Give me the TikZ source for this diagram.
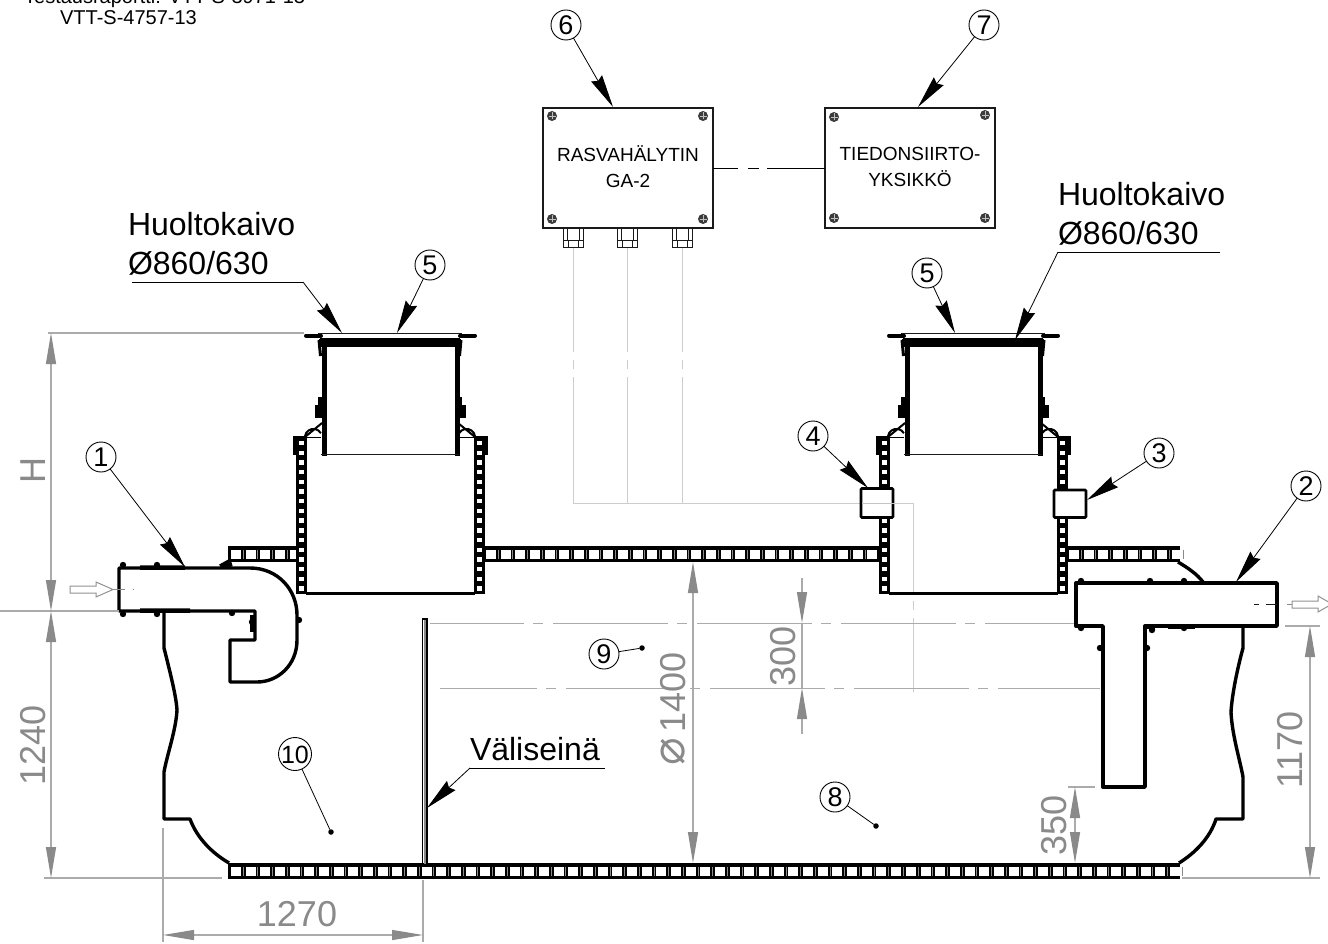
\documentclass[tikz,border=0pt]{standalone}
\usepackage{fontspec}
\setmainfont{Liberation Sans}
\newfontfamily\symfont{DejaVu Sans}
\usetikzlibrary{arrows.meta,calc}
\definecolor{dimtxt}{HTML}{8A8A8A}
\definecolor{dimline}{HTML}{ABABAB}
\definecolor{wire}{HTML}{CDCDCD}
\definecolor{ink}{HTML}{1A1A1A}
\newcommand{\fsz}[1]{\fontsize{#1}{#1}\selectfont}
\newcommand{\hladder}[4]{% x1,x2,y1,count
  \fill[black] (#1,#3) rectangle (#2,#3+16);
  \foreach \i in {1,...,#4} {
    \fill[white] ({#1+3+(\i-1)*14.67},#3+3.5) rectangle +(10,9);
    \draw[dimtxt,line width=.5] ({#1+15+(\i-1)*14.67},#3+3.5) -- +(0,9);
  }
}
\newcommand{\vladder}[3]{% xc,y1,y2
  \fill[black] (#1-5.5,#2) rectangle (#1+5.5,#3);
  \foreach \i in {0,...,15} \fill[white] (#1-2.3,{443+\i*9.7-2.2}) rectangle +(4.6,4.4);
}
\newcommand{\screw}[2]{%
  \fill[ink!85] (#1,#2) circle (5);
  \draw[white!75!black,line width=.4] (#1-3.5,#2) -- (#1+3.5,#2) (#1,#2-3.5) -- (#1,#2+3.5);
}
\newcommand{\gland}[1]{%
  \draw[ink,line width=.8,fill=white] (#1-10,228) rectangle (#1+10,240);
  \draw[ink,line width=.8] (#1-6,228) -- (#1-6,240) (#1+6,228) -- (#1+6,240);
  \draw[ink,line width=.8,fill=white] (#1-10,240) rectangle (#1+10,247);
  \draw[ink,line width=.8] (#1-5,240) -- (#1-5,247) (#1+5,240) -- (#1+5,247);
}
\newcommand{\bump}[2]{\fill[black] (#1,#2) circle (3.2);}
\newcommand{\shaft}[1]{%
\begin{scope}[shift={(#1,0)}]
  \vladder{301.5}{437}{594}
  \vladder{479.3}{437}{594}
  \fill[black] (293,437) rectangle (297,455);
  \fill[black] (484,437) rectangle (488,455);
  \fill[black] (293,435.5) rectangle (307,441);
  \fill[black] (474,435.5) rectangle (488,441);
  \draw[line width=3] (306,593) -- (475,593);
  % riser
  \fill[black] (321.5,346) rectangle (326.5,456);
  \fill[black] (454.5,346) rectangle (459.5,456);
  \draw[line width=1.4,ink] (321,454.5) -- (459,454.5);
  \fill[black] (319,339) rectangle (461,347);
  % lid
  \draw[line width=1,ink] (318,333.5) -- (462,333.5);
  \draw[line width=4,line cap=round] (306,335.5) -- (321,335.5) (460,335.5) -- (475,335.5);
  \draw[line width=.8] (320,338) -- (460,338);
  \draw[line width=3] (319,340) -- (320.5,356) (461,340) -- (459.5,356);
  % clamps
  \fill[black] (318,397) rectangle (322,418);
  \fill[black] (314.5,405) rectangle (322,418);
  \fill[black] (458,397) rectangle (462,418);
  \fill[black] (458,405) rectangle (465.5,418);
  % gussets
  \draw[line width=2] (305,436) arc[start angle=190,end angle=330,radius=8.6] (305,437) -- (322,423);
  \draw[line width=2] (475,436) arc[start angle=-10,end angle=-150,radius=8.6] (475,437) -- (458,423);
  \draw[line width=1.6] (306,437.5) -- (321,437.5) (459,437.5) -- (474,437.5);
\end{scope}}
\tikzset{
  every node/.style={inner sep=0,outer sep=0},
  wall/.style={line width=3.4,line join=round,black},
  num/.style={circle,draw=black,line width=.9,minimum size=30,fill=white,font=\fsz{27}},
  callout/.style={line width=.8,black,-{Stealth[length=33pt,width=12.5pt,inset=3pt]}},
  leader/.style={line width=.8,black},
  ddot/.style={circle,fill=black,minimum size=5.5},
  dimen/.style={dimline,line width=1.1},
  dimarr/.style={dimline,line width=1.2,{Triangle[length=31pt,width=10pt,color=dimtxt]}-{Triangle[length=31pt,width=10pt,color=dimtxt]}},
  dimone/.style={dimline,line width=1.2,-{Triangle[length=31pt,width=10pt,color=dimtxt]}},
  dimtext/.style={text=dimtxt,font=\fsz{36}},
  label/.style={font=\fsz{32},text=black},
  wirepath/.style={wire,line width=1},
  boxn/.style={draw=ink,line width=1.1,minimum width=170,minimum height=120,align=center,font=\fsz{19},fill=white},
  flow/.style={draw=dimline!85!black,line width=1,fill=white},
}
\begin{document}
\begin{tikzpicture}[x=1pt,y=-1pt]
\useasboundingbox (0,0) rectangle (1328,944);
\clip (0,0) rectangle (1328,944);
\fill[white] (0,0) rectangle (1328,944);

% report reference
\node[anchor=base east,font=\fsz{20}] (rep1) at (305,4) {Testausraportti: VTT-S-3971-13};
\node[anchor=base,font=\fsz{20}] (rep2) at (128.5,25) {VTT-S-4757-13};

% boxes
\node[boxn] (b6) at (628,168) {\raisebox{2pt}{RASVAHÄLYTIN}\\[7pt]\raisebox{2pt}{GA-2}};
\node[boxn] (b7) at (910,168) {\raisebox{2pt}{TIEDONSIIRTO-}\\[7pt]\raisebox{2pt}{YKSIKKÖ}};
\screw{552}{116}\screw{703}{116}\screw{552}{219}\screw{703}{219}
\screw{834}{117}\screw{985}{115}\screw{834}{218}\screw{985}{218}
\draw[line width=.9,black,dash pattern=on 25pt off 10pt on 11pt off 8pt on 70pt] (b6) -- (b7);
\gland{573}\gland{627.5}\gland{682}

% wires
\coordinate (g1) at (573,248); \coordinate (g2) at (627.5,248); \coordinate (g3) at (682,248);
\coordinate (w1) at (573,503); \coordinate (w2) at (627.5,503); \coordinate (w3) at (682,503);
\coordinate (w4) at (913,503); \coordinate (w5) at (913,692); \coordinate (w6) at (860,503); \coordinate (w7) at (895,503);
\draw[wirepath,dash pattern=on 104pt off 8pt on 9pt off 8pt on 200pt] (g1) -- (w1);
\draw[wirepath,dash pattern=on 104pt off 8pt on 9pt off 8pt on 200pt] (g2) -- (w2);
\draw[wirepath,dash pattern=on 104pt off 8pt on 9pt off 8pt on 200pt] (g3) -- (w3);
\draw[wirepath] (w1) -- (w6);
\draw[wirepath] (w7) -- (w4);
\draw[wirepath,dash pattern=on 90pt off 8pt on 9pt off 8pt] (w4) -- (w5);

% dash-dot levels
\coordinate (lv1a) at (430,623); \coordinate (lv1b) at (1090,623);
\coordinate (lv2a) at (440,688); \coordinate (lv2b) at (1100,688);
\draw[dimline,line width=1,dash pattern=on 115pt off 9pt on 10pt off 10pt,dash phase=21pt] (lv1a) -- (lv1b);
\draw[dimline,line width=1,dash pattern=on 115pt off 9pt on 10pt off 10pt,dash phase=18pt] (lv2a) -- (lv2b);

% ladder walls
\hladder{228}{1180}{863}{65}
\hladder{228}{300}{546}{5}
\hladder{483}{880}{546}{27}
\hladder{1066}{1180}{546}{8}
\shaft{0}
\shaft{583}

% connectors 4, 3
\draw[line width=2.6,fill=white,rounded corners=1] (861,488.5) rectangle (893,517.5);
\draw[line width=2.6,fill=white,rounded corners=1] (1054,490) rectangle (1086,517.5);
\draw[dimline!70,line width=1] (862,503) -- (895,503);

% tank outline
\draw[wall] (164,612) -- (164,648) .. controls (170,672) and (176,695) .. (177,710) .. controls (176,730) and (167,755) .. (164,772) -- (164,819) -- (190,819) .. controls (197,838) and (212,853) .. (229,863);
\draw[wall] (1243,626) -- (1243,648) .. controls (1237,670) and (1232,695) .. (1231,712) .. controls (1232,735) and (1240,760) .. (1243,777) -- (1243,819) -- (1216,819) .. controls (1210,838) and (1195,853) .. (1179,863);
\draw[wall] (1178,562) .. controls (1188,568) and (1197,574) .. (1203,582);
\draw[wall] (220,566) -- (229,561);

% partition
\draw[black,line width=1.3] (422.5,619) -- (422.5,864) (427,619) -- (427,864);
\draw[dimtxt,line width=1.5] (424.8,620) -- (424.8,864);
\draw[black,line width=1.2] (422,619) -- (427.5,619);

% inlet pipe
\draw[wall,fill=white] (119,568) -- (250,568) .. controls (278,568) and (297,590) .. (297,615) -- (297,640) .. controls (297,665) and (278,682) .. (257,682) -- (230,682) -- (230,640) -- (255,640) -- (255,611) -- (119,611) -- cycle;
\draw[line width=4.5] (140,567.5) -- (185,567.5) (140,610.5) -- (190,610.5) (222,567) -- (232,564);
\bump{123}{565}\bump{157}{565}\bump{123}{614}\bump{157}{614}\bump{232}{613}\bump{299}{620}\bump{252}{622}
\fill[black] (250,615) rectangle (255,632);
\draw[dimtxt,line width=.8] (113,589.5) -- (125,589.5) (133,589.5) -- (134,589.5);

% outlet tee
\draw[wall,fill=white] (1076,583) -- (1277,583) -- (1277,626) -- (1145,626) -- (1145,787) -- (1103,787) -- (1103,626) -- (1076,626) -- cycle;
\draw[line width=4.5] (1168,583) -- (1195,583) (1168,627) -- (1195,627) (1145,627) -- (1155,627);
\bump{1081}{581}\bump{1150}{581}\bump{1184}{581}\bump{1081}{628}\bump{1184}{628}\bump{1152}{630}\bump{1100}{648}\bump{1147}{648}
\draw[ink,line width=.9] (1254,604) -- (1259,604) (1266,604) -- (1277,604);

% flow arrows
\draw[flow] (70,586) -- (96,586) -- (96,582) -- (113,589.5) -- (96,597) -- (96,593) -- (70,593) -- cycle;
\draw[flow] (1292,601) -- (1318,601) -- (1318,596) -- (1332,604) -- (1318,612) -- (1318,608) -- (1292,608) -- cycle;
\draw[dimtxt,line width=.8] (1287,604) -- (1292,604);

% dimensions: H + 1240
\coordinate (e1) at (48,333); \coordinate (e1b) at (304,333);
\coordinate (e2) at (0,611); \coordinate (e2b) at (119,611);
\coordinate (e3) at (44,878); \coordinate (e3b) at (222,878);
\draw[dimen] (e1) -- (e1b); \draw[dimen] (e2) -- (e2b); \draw[dimen] (e3) -- (e3b);
\coordinate (dH1) at (51,333); \coordinate (dH2) at (51,611); \coordinate (dH3) at (51,878);
\draw[dimarr] (dH1) -- (dH2);
\draw[dimarr] (dH2) -- (dH3);
\node[dimtext,rotate=90] (tH) at (33,470) {H};
\node[dimtext,rotate=90] (t1240) at (33,745) {1240};

% 1270
\coordinate (a1) at (163,828); \coordinate (a1b) at (163,942);
\coordinate (a2) at (423,880); \coordinate (a2b) at (423,942);
\draw[dimen] (a1) -- (a1b); \draw[dimen] (a2) -- (a2b);
\coordinate (d1a) at (163,935); \coordinate (d1b) at (423,935);
\draw[dimarr] (d1a) -- (d1b);
\node[dimtext] (t1270) at (297,914) {1270};

% 1400
\coordinate (d2a) at (693,562); \coordinate (d2b) at (693,863);
\draw[dimarr] (d2a) -- (d2b);
\node[dimtext,rotate=90] (t1400) at (673,692) {1400};
\node[text=dimtxt,rotate=90,font=\symfont\fsz{46}] (tdia) at (673,752) {⌀};

% 300
\coordinate (d3s) at (802,578); \coordinate (d3a) at (802,623);
\coordinate (d3b) at (802,688); \coordinate (d3e) at (802,734);
\draw[dimone] (d3s) -- (d3a);
\draw[dimone] (d3e) -- (d3b);
\draw[dimen] (d3a) -- (d3b);
\node[dimtext,rotate=90] (t300) at (783,656) {300};

% 350
\coordinate (e4) at (1068,787); \coordinate (e4b) at (1095,787);
\draw[dimen] (e4) -- (e4b);
\coordinate (d4a) at (1075,787); \coordinate (d4b) at (1075,863);
\draw[dimarr] (d4a) -- (d4b);
\node[dimtext,rotate=90] (t350) at (1054,825) {350};

% 1170
\coordinate (e5) at (1285,626); \coordinate (e5b) at (1320,626);
\coordinate (e6) at (1182,878); \coordinate (e6b) at (1320,878);
\draw[dimen] (e5) -- (e5b); \draw[dimen] (e6) -- (e6b);
\coordinate (d5a) at (1310,626); \coordinate (d5b) at (1310,878);
\draw[dimarr] (d5a) -- (d5b);
\node[dimtext,rotate=90] (t1170) at (1290,750) {1170};

% labels
\node[label,anchor=base west] (h1) at (128,236) {Huoltokaivo};
\node[label,anchor=base west] (h2) at (128,274) {Ø860/630};
\node[label,anchor=base west] (h3) at (1058,206) {Huoltokaivo};
\node[label,anchor=base west] (h4) at (1058,244) {Ø860/630};
\node[label,anchor=base west] (v1) at (470,760) {Väliseinä};

\coordinate (u1a) at (132,282); \coordinate (u1b) at (303,282); \coordinate (t1) at (342,333);
\draw[line width=.8] (u1a) -- (u1b);
\draw[callout] (u1b) -- (t1);
\coordinate (u2a) at (1220,252); \coordinate (u2b) at (1058,252); \coordinate (t2) at (1015,340);
\draw[line width=.8] (u2a) -- (u2b);
\draw[callout] (u2b) -- (t2);
\coordinate (u3a) at (605,768); \coordinate (u3b) at (470,768); \coordinate (t3) at (427,808);
\draw[line width=.8] (u3a) -- (u3b);
\draw[callout] (u3b) -- (t3);

% numbered callouts
\tikzset{digit/.style={minimum size=30}}
\newcommand{\cdig}[1]{\makebox[0pt]{\raisebox{-.36em}[0pt][0pt]{#1}}}
\node[num] (n1) at (101,457) {\cdig{1}};
\node[num] (n2) at (1306,486) {\cdig{2}};
\node[num] (n3) at (1159,453) {\cdig{3}};
\node[num] (n4) at (813,436) {\cdig{4}};
\node[num] (n5a) at (430,265) {\cdig{5}};
\node[num] (n5b) at (927,273) {\cdig{5}};
\node[num] (n6) at (566,25) {\cdig{6}};
\node[num] (n7) at (984,25) {\cdig{7}};
\node[num] (n8) at (835,797) {\cdig{8}};
\node[num] (n9) at (604,654) {\cdig{9}};
\node[num,minimum size=33,font=\fsz{25}] (n10) at (295,754) {\cdig{10}};

\coordinate (c1) at (185,567); \coordinate (c2) at (1236,582); \coordinate (c3) at (1087,500);
\coordinate (c4) at (868,488); \coordinate (c5a) at (397,333); \coordinate (c5b) at (955,333);
\coordinate (c6) at (613,107); \coordinate (c7) at (918,107);
\draw[callout] (n1) -- (c1);
\draw[callout] (n2) -- (c2);
\draw[callout] (n3) -- (c3);
\draw[callout] (n4) -- (c4);
\draw[callout] (n5a) -- (c5a);
\draw[callout] (n5b) -- (c5b);
\draw[callout] (n6) -- (c6);
\draw[callout] (n7) -- (c7);

\node[ddot] (p8) at (876,826) {};
\node[ddot] (p9) at (642,648) {};
\node[ddot] (p10) at (331,832) {};
\draw[leader] (n8) -- (p8);
\draw[leader] (n9) -- (p9);
\draw[leader] (n10) -- (p10);
\end{tikzpicture}
\end{document}
